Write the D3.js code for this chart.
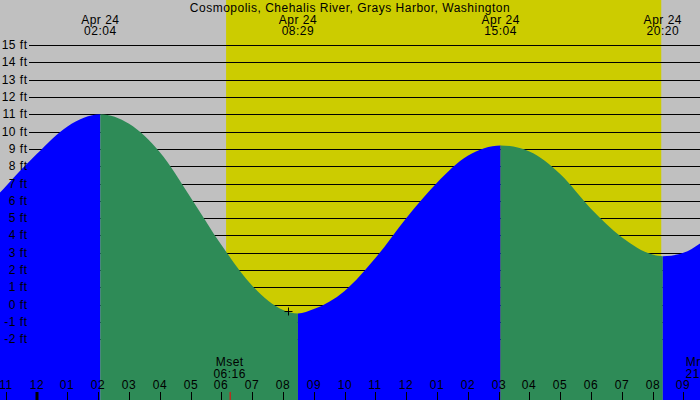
<!DOCTYPE html>
<html><head><meta charset="utf-8">
<script src="https://cdn.jsdelivr.net/npm/d3@7"></script>
<style>html,body{margin:0;padding:0;background:#fff}svg{display:block}text{font-family:"Liberation Sans",Arial,sans-serif;font-size:12px;letter-spacing:0.5px;fill:#000}</style>
</head><body><svg id="c" width="700" height="400"></svg>
<script>
// ---- data ----
const title = "Cosmopolis, Chehalis River, Grays Harbor, Washington";
const viewStart = "2024-04-23 22:48:30";
const viewEnd = "2024-04-24 21:32:30";
const curveTimes = ["2024-04-23 22:40","2024-04-23 23:00","2024-04-24 00:00","2024-04-24 01:00","2024-04-24 02:04",
  "2024-04-24 03:00","2024-04-24 04:00","2024-04-24 05:00","2024-04-24 06:00","2024-04-24 07:00","2024-04-24 08:00",
  "2024-04-24 08:29","2024-04-24 09:00","2024-04-24 10:00","2024-04-24 11:00","2024-04-24 12:00","2024-04-24 13:00",
  "2024-04-24 14:00","2024-04-24 15:04","2024-04-24 16:00","2024-04-24 17:00","2024-04-24 18:00","2024-04-24 19:00",
  "2024-04-24 20:00","2024-04-24 20:20","2024-04-24 21:00","2024-04-24 21:40"];
const curveHeights = [6.2,6.85,8.7,10.3,11.0,
  10.45,8.8,6.2,3.45,1.1,-0.3,
  -0.5,-0.25,0.8,2.7,5.0,7.05,
  8.6,9.2,8.85,7.55,5.55,3.9,
  2.9,2.8,3.0,3.7];
const extremeTimes = ["2024-04-24 02:04","2024-04-24 08:29","2024-04-24 15:04","2024-04-24 20:20"];
const extremeHeights = [11.0,-0.5,9.2,2.8];
const extremeDates = ["Apr 24","Apr 24","Apr 24","Apr 24"];
const extremeLabels = ["02:04","08:29","15:04","20:20"];
const sunrise = "2024-04-24 06:09";
const sunset = "2024-04-24 20:17";
const moonNames = ["Mset","Mrise"];
const moonTimes = ["2024-04-24 06:16","2024-04-24 21:36"];
const moonLabels = ["06:16","21:36"];
const markerTime = "2024-04-24 08:10";
const markerHeight = -0.35;
const yTicks = [15,14,13,12,11,10,9,8,7,6,5,4,3,2,1,0,-1,-2];

// ---- drawing ----
const W = 700, H = 400;
const p = d3.timeParse("%Y-%m-%d %H:%M");
const p2 = d3.timeParse("%Y-%m-%d %H:%M:%S");
const x = d3.scaleTime().domain([p2(viewStart), p2(viewEnd)]).range([0, W]);
const y = d3.scaleLinear().domain([-5.5, 15]).range([400, 45]);
const svg = d3.select("#c");

svg.append("rect").attr("width", W).attr("height", H).attr("fill", "#c0c0c0");
svg.append("rect").attr("x", x(p(sunrise))).attr("y", 0)
  .attr("width", x(p(sunset)) - x(p(sunrise))).attr("height", H).attr("fill", "#cccc00");

svg.append("g").selectAll("line").data(yTicks).join("line")
  .attr("x1", 29).attr("x2", W).attr("y1", d => Math.round(y(d)) + 0.5).attr("y2", d => Math.round(y(d)) + 0.5)
  .attr("stroke", "#000").attr("stroke-width", 1);

const pts = curveTimes.map((t, i) => [p(t), curveHeights[i]]);
const area = d3.area().x(d => x(d[0])).y0(H).y1(d => y(d[1])).curve(d3.curveMonotoneX);
svg.append("clipPath").attr("id", "tide").append("path").attr("d", area(pts));

const bounds = [x.domain()[0], ...extremeTimes.map(p), x.domain()[1]];
const bands = [];
for (let i = 0; i < bounds.length - 1; i++) {
  const nextIsHigh = i < extremeHeights.length
    ? (i === 0 ? extremeHeights[0] > extremeHeights[1] : extremeHeights[i] > extremeHeights[i - 1])
    : extremeHeights[extremeHeights.length - 1] < extremeHeights[extremeHeights.length - 2];
  bands.push({ a: bounds[i], b: bounds[i + 1], rising: nextIsHigh });
}
svg.append("g").attr("clip-path", "url(#tide)").selectAll("rect").data(bands).join("rect")
  .attr("x", d => x(d.a)).attr("width", d => x(d.b) - x(d.a)).attr("y", 0).attr("height", H)
  .attr("fill", d => d.rising ? "#0000ff" : "#2e8b57");

svg.append("g").selectAll("text").data(yTicks).join("text")
  .attr("x", 27.5).attr("y", d => y(d) + 4).attr("text-anchor", "end").text(d => d + " ft");

// marker
const mx = Math.round(x(p(markerTime))) + 0.5, my = Math.round(y(markerHeight)) + 0.5;
svg.append("path").attr("d", `M${mx - 4},${my}H${mx + 4}M${mx},${my - 4}V${my + 4}`)
  .attr("stroke", "#000").attr("stroke-width", 1);

svg.append("text").attr("x", 350).attr("y", 12).attr("text-anchor", "middle").text(title);
const ex = svg.append("g").selectAll("g").data(extremeTimes).join("g")
  .attr("transform", d => `translate(${x(p(d))},0)`);
ex.append("text").attr("y", 24).attr("text-anchor", "middle").text((d, i) => extremeDates[i]);
ex.append("text").attr("y", 35).attr("text-anchor", "middle").text((d, i) => extremeLabels[i]);

// hour axis
const hours = d3.timeHour.range(d3.timeHour.ceil(x.domain()[0]), x.domain()[1]);
const ax = svg.append("g").selectAll("g").data(hours).join("g")
  .attr("transform", d => `translate(${Math.round(x(d))},0)`);
ax.append("line").attr("x1", d => d.getHours() === 0 ? 0 : 0.5).attr("x2", d => d.getHours() === 0 ? 0 : 0.5)
  .attr("y1", 392).attr("y2", 400).attr("stroke", "#000").attr("stroke-width", d => d.getHours() === 0 ? 3 : 1);
ax.append("text").attr("y", 389).attr("text-anchor", "middle").text(d3.timeFormat("%I"));

// moon events
const mg = svg.append("g").selectAll("g").data(moonTimes).join("g")
  .attr("transform", d => `translate(${x(p(d))},0)`);
mg.append("line").attr("x1", 0.5).attr("x2", 0.5).attr("y1", 392).attr("y2", 400).attr("stroke", "#ff0000");
mg.append("text").attr("y", 366).attr("text-anchor", "middle").text((d, i) => moonNames[i]);
mg.append("text").attr("y", 378).attr("text-anchor", "middle").text((d, i) => moonLabels[i]);
</script></body></html>
